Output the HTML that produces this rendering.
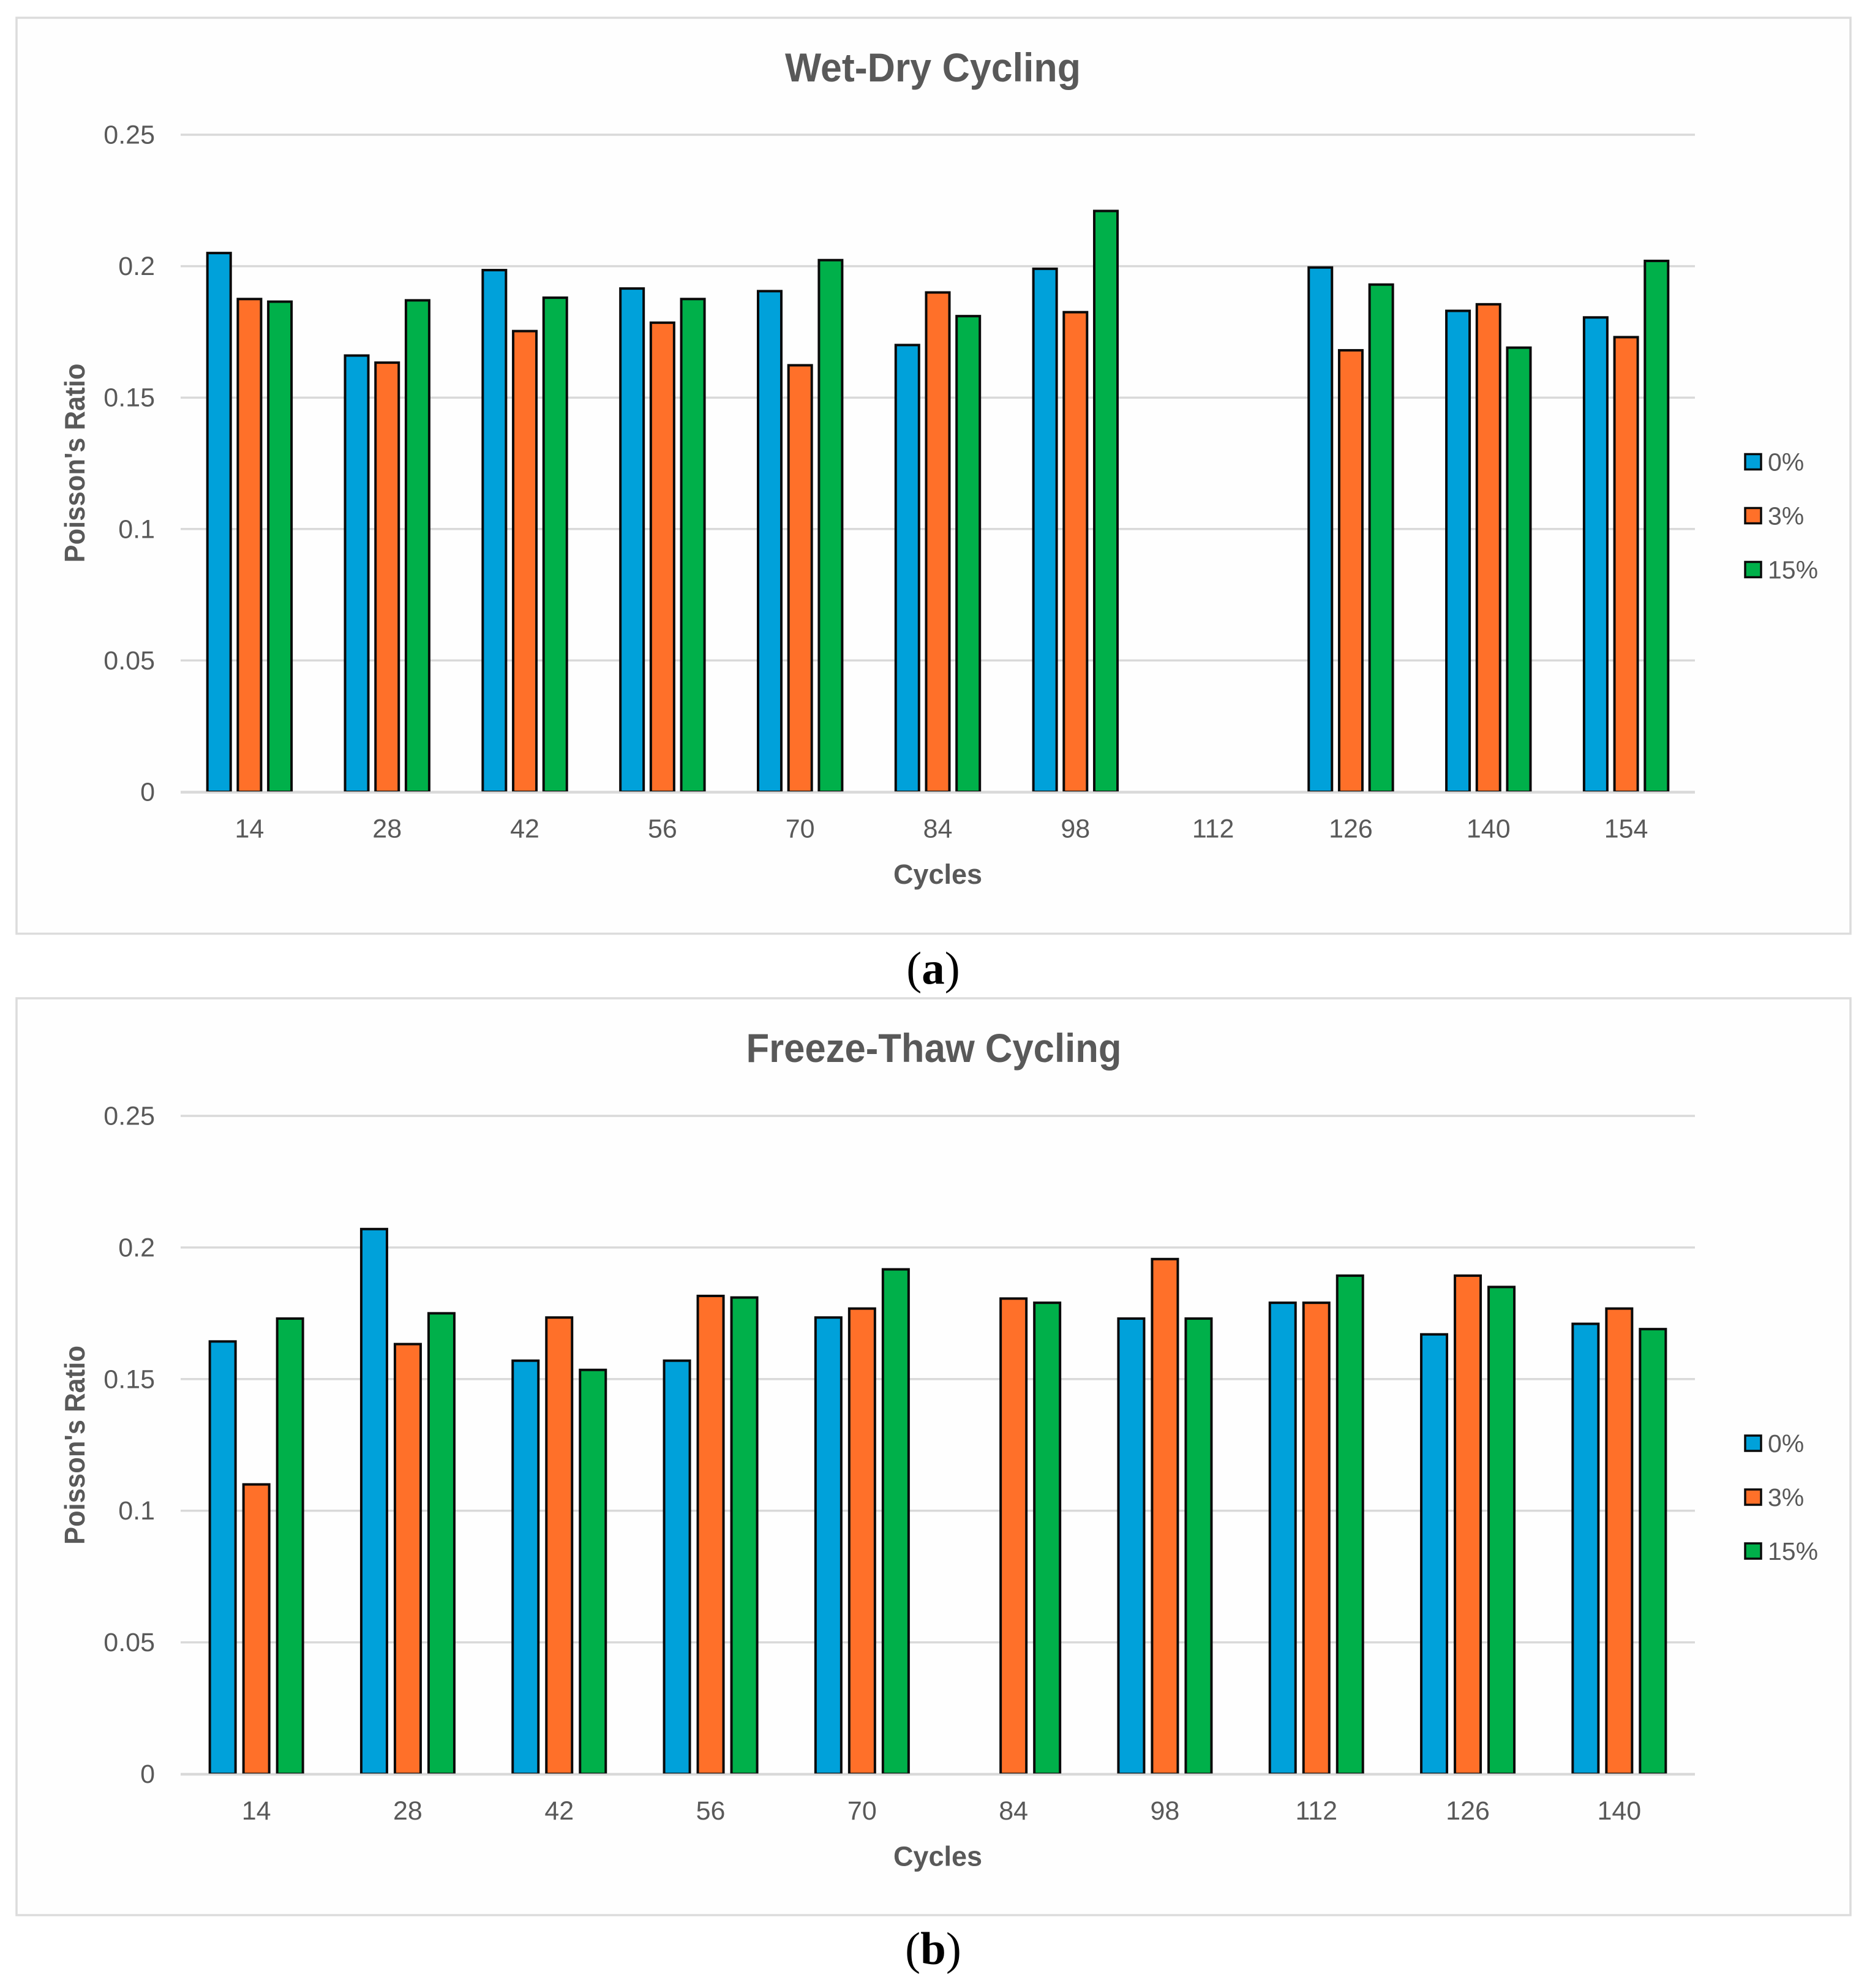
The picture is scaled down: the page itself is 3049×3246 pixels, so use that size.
<!DOCTYPE html>
<html lang="en">
<head>
<meta charset="utf-8">
<title>Poisson's Ratio under Wet-Dry and Freeze-Thaw Cycling</title>
<style>
html,body{margin:0;padding:0;background:#fff;}
svg{display:block;font-family:"Liberation Sans",sans-serif;}
</style>
</head>
<body>
<svg id="figure" xmlns="http://www.w3.org/2000/svg" width="3049" height="3246" viewBox="0 0 3049 3246">
  <rect x="0" y="0" width="3049" height="3246" fill="#ffffff"/>
  <text x="1524" y="1606" text-anchor="middle" font-family="'Liberation Serif',serif" font-size="75" fill="#000">(<tspan font-weight="bold">a</tspan>)</text>
  <text x="1524" y="3207" text-anchor="middle" font-family="'Liberation Serif',serif" font-size="75" fill="#000">(<tspan font-weight="bold">b</tspan>)</text>
</svg>
<script>
// ---- Shared axis and legend data ----
const yTicks = [0, 0.05, 0.1, 0.15, 0.2, 0.25];
const yTickLabels = ["0", "0.05", "0.1", "0.15", "0.2", "0.25"];
const seriesNames = ["0%", "3%", "15%"];
const seriesColors = ["#00A1DA", "#FF7029", "#00B04A"];

// ---- Chart (a): Wet-Dry Cycling ----
const wetDryCategories = ["14", "28", "42", "56", "70", "84", "98", "112", "126", "140", "154"];
const wetDry0 = [0.205, 0.166, 0.1985, 0.1915, 0.1905, 0.17, 0.199, null, 0.1995, 0.183, 0.1805];
const wetDry3 = [0.1875, 0.1633, 0.1753, 0.1785, 0.1623, 0.19, 0.1825, null, 0.168, 0.1855, 0.173];
const wetDry15 = [0.1865, 0.187, 0.188, 0.1875, 0.2023, 0.181, 0.221, null, 0.193, 0.169, 0.202];

// ---- Chart (b): Freeze-Thaw Cycling ----
const freezeThawCategories = ["14", "28", "42", "56", "70", "84", "98", "112", "126", "140"];
const freezeThaw0 = [0.1643, 0.207, 0.157, 0.157, 0.1734, null, 0.173, 0.179, 0.167, 0.171];
const freezeThaw3 = [0.11, 0.1633, 0.1734, 0.1816, 0.1768, 0.1806, 0.1956, 0.179, 0.1893, 0.1768];
const freezeThaw15 = [0.173, 0.175, 0.1535, 0.181, 0.1917, 0.179, 0.173, 0.1893, 0.185, 0.169];

const NS = "http://www.w3.org/2000/svg";
const root = document.getElementById("figure");

function make(parent, tag, attrs, content) {
  const el = document.createElementNS(NS, tag);
  for (const k in attrs) el.setAttribute(k, attrs[k]);
  if (content !== undefined) el.textContent = content;
  parent.appendChild(el);
  return el;
}

function drawChart(opts) {
  const g = make(root, "g", {});
  
  

  const plotLeft = 295, plotRight = 2768;
  const yZero = opts.yZero, yTop = opts.yTop, yMax = 0.25;
  const yScale = v => yZero - (v / yMax) * (yZero - yTop);
  const band = (plotRight - plotLeft) / opts.categories.length;
  const xCenter = i => plotLeft + band * (i + 0.5);

  const frame = make(g, "rect", {x: 27, y: opts.frameTop, width: 2995, height: opts.frameBottom - opts.frameTop, fill: "#fefefe", stroke: "#dcdcdc", "stroke-width": 3.5});
  
  

  const title = make(g, "text", {x: opts.titleX, y: opts.titleY, "text-anchor": "middle", "font-size": 66, "font-weight": "bold", fill: "#595959", textLength: opts.titleWidth, lengthAdjust: "spacingAndGlyphs"}, opts.title);
  
  

  yTicks.forEach((t, i) => {
    const line = make(g, "line", {x1: plotLeft, x2: plotRight, y1: yScale(t), y2: yScale(t), stroke: "#d9d9d9", "stroke-width": 3.5});
    
    
    const label = make(g, "text", {x: 253, y: yScale(t) + 14.5, "text-anchor": "end", "font-size": 43, fill: "#595959"}, yTickLabels[i]);
    
    
  });

  const barStep = opts.barStep, barW = opts.barWidth, sw = 4;
  opts.series.forEach((values, s) => {
    values.forEach((v, i) => {
      if (v === null) return;
      const x = xCenter(i) + (s - 1) * barStep - barW / 2;
      const y = yScale(v);
      const bar = make(g, "rect", {x: x + sw / 2, y: y, width: barW - sw, height: Math.max(0, yZero - y), fill: seriesColors[s], stroke: "#0a0a0a", "stroke-width": sw});
      
      
    });
  });

  const baseline = make(g, "line", {x1: plotLeft, x2: plotRight, y1: yZero + 1, y2: yZero + 1, stroke: "#d9d9d9", "stroke-width": 3.5});
  
  

  opts.categories.forEach((c, i) => {
    const label = make(g, "text", {x: xCenter(i), y: yZero + 74.5, "text-anchor": "middle", "font-size": 43, fill: "#595959"}, c);
    
    
  });

  const xTitle = make(g, "text", {x: 1531.5, y: yZero + 150, "text-anchor": "middle", "font-size": 45, "font-weight": "bold", fill: "#595959"}, "Cycles");
  
  

  const yTitleY = yZero - 537;
  const yTitle = make(g, "text", {x: 0, y: 0, transform: "translate(138 " + yTitleY + ") rotate(-90)", "text-anchor": "middle", "font-size": 46, "font-weight": "bold", fill: "#595959", textLength: 325, lengthAdjust: "spacingAndGlyphs"}, "Poisson's Ratio");
  
  

  seriesNames.forEach((n, s) => {
    const top = opts.legendTop + s * 88;
    const swatch = make(g, "rect", {x: 2850, y: top, width: 26, height: 25, fill: seriesColors[s], stroke: "#0a0a0a", "stroke-width": 3.5});
    
    
    const label = make(g, "text", {x: 2887, y: top + 27, "font-size": 41, fill: "#595959"}, n);
    
    
  });
}

drawChart({
  name: "wet-dry-chart", title: "Wet-Dry Cycling",
  categories: wetDryCategories, series: [wetDry0, wetDry3, wetDry15],
  frameTop: 29, frameBottom: 1524.5, titleX: 1523.5, titleY: 133, titleWidth: 483,
  yTop: 220, yZero: 1293, legendTop: 741.5,
  barStep: 49.7, barWidth: 42
});
drawChart({
  name: "freeze-thaw-chart", title: "Freeze-Thaw Cycling",
  categories: freezeThawCategories, series: [freezeThaw0, freezeThaw3, freezeThaw15],
  frameTop: 1630, frameBottom: 3127, titleX: 1525, titleY: 1734, titleWidth: 613,
  yTop: 1822, yZero: 2896.5, legendTop: 2344,
  barStep: 55, barWidth: 46
});
</script>
</body>
</html>
